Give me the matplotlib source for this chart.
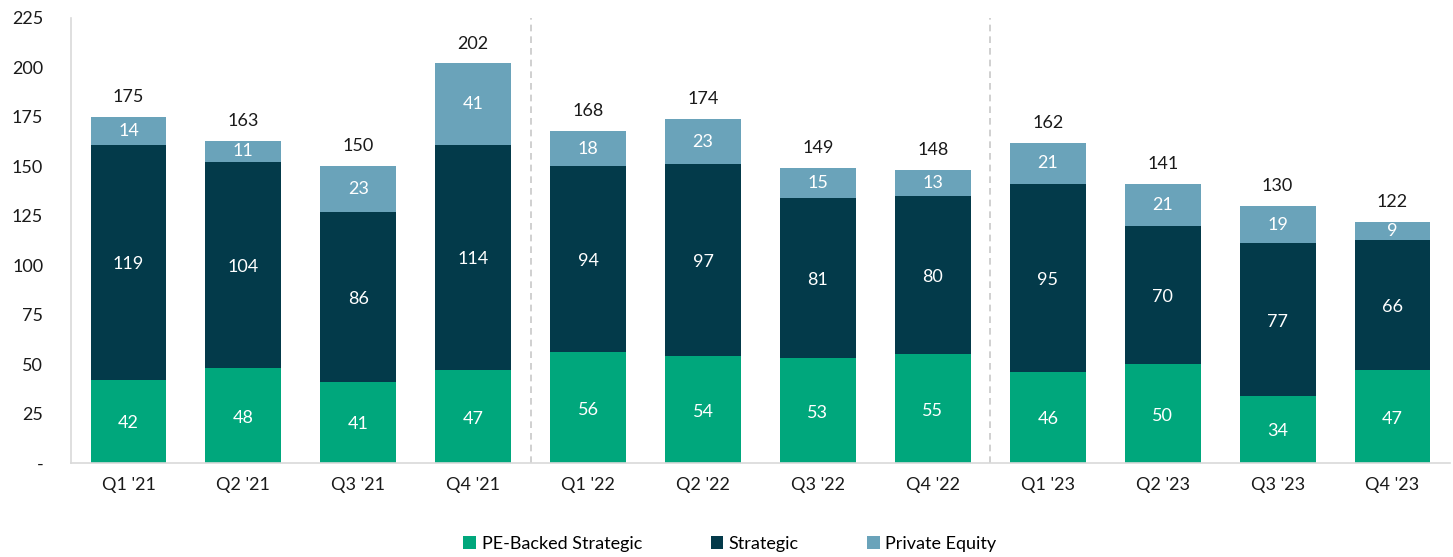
import matplotlib.pyplot as plt
import numpy as np

plt.rcParams['font.family'] = ['Lato', 'DejaVu Sans']

# data
quarters = ["Q1 '21", "Q2 '21", "Q3 '21", "Q4 '21",
            "Q1 '22", "Q2 '22", "Q3 '22", "Q4 '22",
            "Q1 '23", "Q2 '23", "Q3 '23", "Q4 '23"]
pe_backed = [42, 48, 41, 47, 56, 54, 53, 55, 46, 50, 34, 47]
strategic = [119, 104, 86, 114, 94, 97, 81, 80, 95, 70, 77, 66]
private_equity = [14, 11, 23, 41, 18, 23, 15, 13, 21, 21, 19, 9]

c_green = "#00A77C"
c_dark = "#033A4A"
c_light = "#6AA3BA"

fig = plt.figure(figsize=(14.53, 5.57), dpi=100)
ax = fig.add_axes([71 / 1453, 1 - 463 / 557, (1450 - 71) / 1453, 445 / 557])

x = np.arange(len(quarters))
w = 0.66
pe_b = np.array(pe_backed)
st = np.array(strategic)
pe = np.array(private_equity)

ax.bar(x, pe_b, w, color=c_green, label="PE-Backed Strategic")
ax.bar(x, st, w, bottom=pe_b, color=c_dark, label="Strategic")
ax.bar(x, pe, w, bottom=pe_b + st, color=c_light, label="Private Equity")

# segment labels
for i in range(len(x)):
    ax.text(x[i], pe_b[i] / 2 - 1, str(pe_b[i]), ha="center", va="center",
            color="white", fontsize=13)
    ax.text(x[i], pe_b[i] + st[i] / 2 - 1, str(st[i]), ha="center", va="center",
            color="white", fontsize=13)
    ax.text(x[i], pe_b[i] + st[i] + pe[i] / 2, str(pe[i]), ha="center",
            va="center", color="white", fontsize=13)
    total = pe_b[i] + st[i] + pe[i]
    ax.text(x[i], total + 6, str(total), ha="center", va="bottom",
            color="#1a1a1a", fontsize=13)

# year separators
for sep in [3.5, 7.5]:
    ax.axvline(sep, color="#c8c8c8", linestyle=(0, (4, 3)), linewidth=1.2)

ax.set_xlim(-0.5, len(x) - 0.5)
ax.set_ylim(0, 225)
ax.set_yticks(range(0, 226, 25))
ax.set_yticklabels(["-"] + [str(v) for v in range(25, 226, 25)])
ax.set_xticks(x)
ax.set_xticklabels(quarters)
ax.tick_params(axis="both", length=0, labelsize=13, colors="#1a1a1a")
ax.tick_params(axis="y", pad=20)
ax.tick_params(axis="x", pad=10)

for s in ["top", "right"]:
    ax.spines[s].set_visible(False)
ax.spines["left"].set_color("#d9d9d9")
ax.spines["bottom"].set_color("#d9d9d9")
ax.spines["left"].set_linewidth(1.2)
ax.spines["bottom"].set_linewidth(1.2)

fig.legend(loc="center", bbox_to_anchor=(730 / 1453, 1 - 544 / 557), ncol=3,
           frameon=False, fontsize=13, handlelength=0.7, handleheight=0.7,
           handletextpad=0.3, columnspacing=3.8)

fig.savefig("out.png", dpi=100)
